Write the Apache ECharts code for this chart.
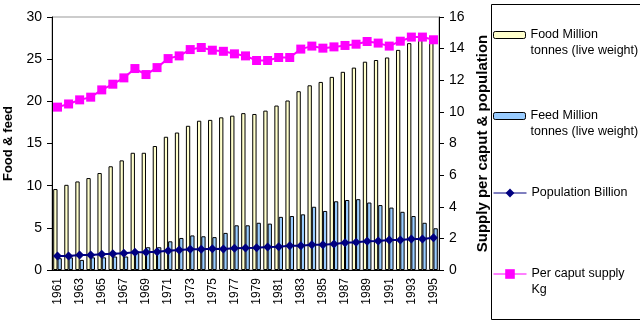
<!DOCTYPE html>
<html>
<head>
<meta charset="utf-8">
<script src="https://cdn.jsdelivr.net/npm/echarts@6/dist/echarts.min.js"></script>
<style>
html,body{margin:0;padding:0;background:#fff;}
#chart{width:640px;height:323px;}
</style>
</head>
<body>
<div id="chart"></div>
<script>
const years = ['1961','1962','1963','1964','1965','1966','1967','1968','1969','1970','1971','1972','1973','1974','1975','1976','1977','1978','1979','1980','1981','1982','1983','1984','1985','1986','1987','1988','1989','1990','1991','1992','1993','1994','1995'];
const food = [9.6,10.1,10.5,10.9,11.5,12.3,13.0,13.9,13.9,14.7,15.8,16.3,17.1,17.7,17.8,18.1,18.3,18.6,18.5,18.9,19.5,20.1,21.2,21.9,22.3,22.9,23.5,24.0,24.7,24.9,25.2,26.1,26.9,27.4,27.7];
const feed = [1.4,1.5,1.2,1.5,1.5,1.6,1.6,2.0,2.7,2.7,3.4,3.8,4.1,4.0,3.9,4.4,5.3,5.3,5.6,5.5,6.3,6.4,6.6,7.5,7.0,8.15,8.3,8.4,8.0,7.7,7.4,6.9,6.4,5.6,4.95];
const population = [0.89,0.89,0.95,0.95,0.99,1.03,1.06,1.12,1.12,1.16,1.22,1.27,1.31,1.31,1.35,1.33,1.37,1.39,1.41,1.46,1.47,1.54,1.54,1.60,1.60,1.65,1.73,1.75,1.82,1.84,1.90,1.90,1.96,1.96,2.04];
const perCaput = [10.3,10.5,10.76,10.93,11.39,11.75,12.15,12.74,12.36,12.8,13.37,13.54,13.94,14.07,13.9,13.83,13.67,13.54,13.25,13.25,13.44,13.44,13.97,14.16,14.03,14.11,14.2,14.28,14.45,14.35,14.16,14.47,14.73,14.73,14.56];
const leftTicks = {min: 0, max: 30, interval: 5};
const rightTicks = {min: 0, max: 16, interval: 2};
const names = ['Food Million tonnes (live weight)','Feed Million tonnes (live weight)','Population Billion','Per caput supply Kg'];
const legendText = {
  'Food Million tonnes (live weight)': '\nFood Million\ntonnes (live weight)',
  'Feed Million tonnes (live weight)': '\nFeed Million\ntonnes (live weight)',
  'Population Billion': 'Population Billion',
  'Per caput supply Kg': '\nPer caput supply\nKg'
};

const FONT = 'Liberation Sans, Arial, sans-serif';
const chart = echarts.init(document.getElementById('chart'), null, {renderer: 'canvas'});
const legendBase = {
  orient: 'vertical', left: 493, padding: 0, itemGap: 0, selectedMode: false,
  textStyle: {fontFamily: FONT, fontSize: 12.5, color: '#000', lineHeight: 16},
  formatter: n => legendText[n]
};
const option = {
  animation: false,
  backgroundColor: '#fff',
  textStyle: {fontFamily: FONT},
  grid: {left: 52, right: 201, top: 17, bottom: 53, show: true, borderColor: '#999', borderWidth: 1, outerBoundsMode: 'none', containLabel: false},
  graphic: [{type: 'rect', left: 489, top: 2, shape: {width: 149, height: 315}, style: {fill: 'none', stroke: '#000', lineWidth: 1}, z: 0}],
  legend: [
    Object.assign({}, legendBase, {data: [names[0]], top: 11, itemWidth: 32, itemHeight: 7, itemStyle: {borderColor: '#000', borderWidth: 1}}),
    Object.assign({}, legendBase, {data: [names[1]], top: 92, itemWidth: 32, itemHeight: 7, itemStyle: {borderColor: '#000', borderWidth: 1}}),
    Object.assign({}, legendBase, {data: [names[2]], top: 185, itemWidth: 33, itemHeight: 11, lineStyle: {width: 1}}),
    Object.assign({}, legendBase, {data: [names[3]], top: 250, itemWidth: 33, itemHeight: 12, lineStyle: {width: 1}})
  ],
  xAxis: {
    type: 'category', data: years, boundaryGap: true,
    axisLine: {lineStyle: {color: '#000', width: 1}},
    axisTick: {interval: 0, length: 5, lineStyle: {color: '#000'}},
    axisLabel: {interval: 1, rotate: 90, fontSize: 12, color: '#000', margin: 8}
  },
  yAxis: [
    {
      type: 'value', min: leftTicks.min, max: leftTicks.max, interval: leftTicks.interval,
      name: 'Food & feed', nameLocation: 'middle', nameGap: 37, nameRotate: 90,
      nameTextStyle: {fontSize: 13, fontWeight: 'bold', color: '#000'},
      axisLine: {show: true, lineStyle: {color: '#000'}},
      axisTick: {show: true, length: 5, lineStyle: {color: '#000'}},
      axisLabel: {fontSize: 14, color: '#000', margin: 10},
      splitLine: {show: false}
    },
    {
      type: 'value', min: rightTicks.min, max: rightTicks.max, interval: rightTicks.interval,
      name: 'Supply per caput & population', nameLocation: 'middle', nameGap: 33, nameRotate: 90,
      nameTextStyle: {fontSize: 15, fontWeight: 'bold', color: '#000'},
      axisLine: {show: true, lineStyle: {color: '#000'}},
      axisTick: {show: true, length: 5, lineStyle: {color: '#000'}},
      axisLabel: {fontSize: 14, color: '#000', margin: 10},
      splitLine: {show: false}
    }
  ],
  series: [
    {name: names[0], type: 'bar', data: food, yAxisIndex: 0, barGap: '0%', barCategoryGap: '22%',
     itemStyle: {color: '#FFFFCC', borderColor: '#000', borderWidth: 1}},
    {name: names[1], type: 'bar', data: feed, yAxisIndex: 0,
     itemStyle: {color: '#99CCFF', borderColor: '#000', borderWidth: 1}},
    {name: names[2], type: 'line', data: population, yAxisIndex: 1, symbol: 'diamond', symbolSize: 9, showAllSymbol: true,
     lineStyle: {color: '#000080', width: 2}, itemStyle: {color: '#000080'}, z: 3},
    {name: names[3], type: 'line', data: perCaput, yAxisIndex: 1, symbol: 'rect', symbolSize: 9, showAllSymbol: true,
     lineStyle: {color: '#FF00FF', width: 2}, itemStyle: {color: '#FF00FF'}, z: 4}
  ]
};
chart.setOption(option);
</script>
</body>
</html>
